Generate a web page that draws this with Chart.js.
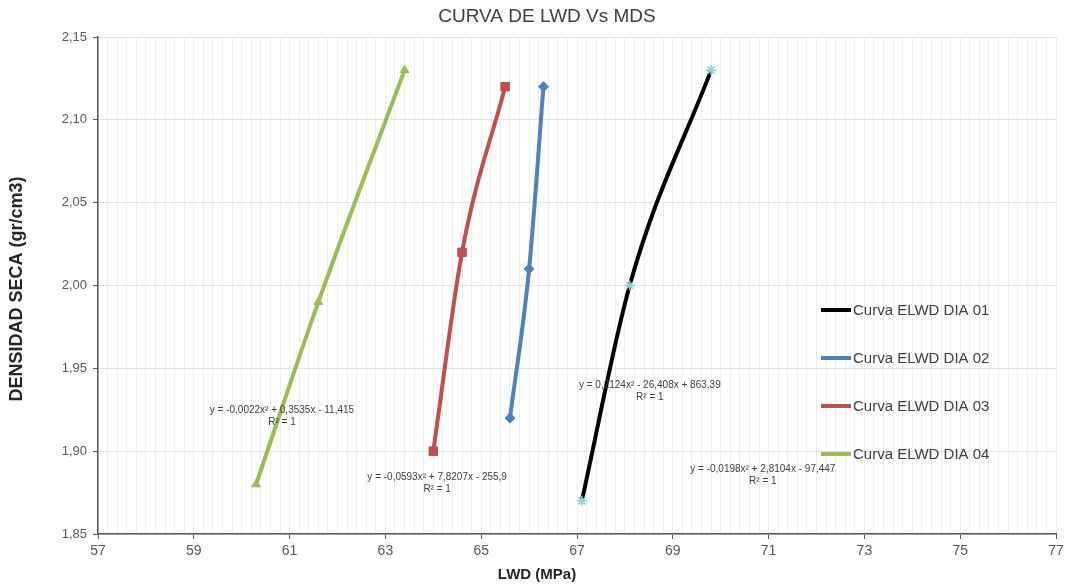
<!DOCTYPE html>
<html>
<head>
<meta charset="utf-8">
<title>Curva de LWD vs MDS</title>
<script src="https://cdn.jsdelivr.net/npm/chart.js@4.4.0/dist/chart.umd.min.js"></script>
<style>
  html, body { margin: 0; padding: 0; background: #fff; }
  #wrap { width: 1069px; height: 586px; }
</style>
</head>
<body>
<div id="wrap"><canvas id="lwdChart" width="1069" height="586"></canvas></div>
<script>
// LWD (MPa) vs dry density (gr/cm3), one curve per test day
const seriesNames = ["Curva ELWD DIA 01", "Curva ELWD DIA 02", "Curva ELWD DIA 03", "Curva ELWD DIA 04"];
const lwdDia01 = [67.1, 68.1, 69.8];
const densDia01 = [1.87, 2.00, 2.13];
const lwdDia02 = [65.6, 66.0, 66.3];
const densDia02 = [1.92, 2.01, 2.12];
const lwdDia03 = [64.0, 64.6, 65.5];
const densDia03 = [1.90, 2.02, 2.12];
const lwdDia04 = [60.3, 61.6, 63.4];
const densDia04 = [1.88, 1.99, 2.13];

// trendline equations shown on the plot
const trendEquations = [
  "y = 0,2124x² - 26,408x + 863,39",
  "y = -0,0198x² + 2,8104x - 97,447",
  "y = -0,0593x² + 7,8207x - 255,9",
  "y = -0,0022x² + 0,3535x - 11,415"
];
const trendR2 = ["R² = 1", "R² = 1", "R² = 1", "R² = 1"];
// where each equation sits, in axis units
const eqAnchors = [
  { x: 68.52, y: 1.940 },
  { x: 70.88, y: 1.889 },
  { x: 64.08, y: 1.884 },
  { x: 60.84, y: 1.925 }
];

const colors = ["#000000", "#4f81bd", "#c0504d", "#9bbb59"];
const pointStyles = ["star", "rectRot", "rect", "triangle"];

const toPoints = (xs, ys) => xs.map((x, i) => ({ x: x, y: ys[i] }));
const allSeries = [
  toPoints(lwdDia01, densDia01),
  toPoints(lwdDia02, densDia02),
  toPoints(lwdDia03, densDia03),
  toPoints(lwdDia04, densDia04)
];

const datasets = allSeries.map((pts, i) => ({
  label: seriesNames[i],
  data: pts,
  showLine: true,
  cubicInterpolationMode: "monotone",
  borderColor: colors[i],
  borderWidth: 4,
  pointStyle: pointStyles[i],
  pointRadius: i === 2 ? 6 : 5,
  pointBackgroundColor: i === 0 ? "#8fd3d3" : colors[i],
  pointBorderColor: i === 0 ? "#8fd3d3" : colors[i],
  pointBorderWidth: i === 0 ? 1.5 : 1
}));

const axisGrey = "#595959";
const textGrey = "#404040";

// title, axis titles, legend and equations
const decorPlugin = {
  id: "decor",
  afterDraw(chart) {
    const c = chart.ctx;
    const xs = chart.scales.x;
    const ys = chart.scales.y;
    c.save();

    c.fillStyle = textGrey;
    c.textAlign = "center";
    c.textBaseline = "middle";
    c.font = "19px 'Liberation Sans', sans-serif";
    c.fillText("CURVA DE LWD Vs MDS", 547, 17);

    c.fillStyle = "#262626";
    c.font = "bold 15px 'Liberation Sans', sans-serif";
    c.fillText("LWD (MPa)", 537, 575);

    c.save();
    c.translate(17, 289);
    c.rotate(-Math.PI / 2);
    c.font = "bold 18px 'Liberation Sans', sans-serif";
    c.fillText("DENSIDAD SECA (gr/cm3)", 0, 0);
    c.restore();

    // legend
    c.textAlign = "left";
    c.font = "15px 'Liberation Sans', sans-serif";
    chart.data.datasets.forEach((ds, i) => {
      const y = 310 + i * 48;
      c.strokeStyle = ds.borderColor;
      c.lineWidth = 4;
      c.beginPath();
      c.moveTo(821, y);
      c.lineTo(851, y);
      c.stroke();
      c.fillStyle = textGrey;
      c.fillText(ds.label, 853, y + 1);
    });

    // equations
    c.textAlign = "center";
    c.font = "10px 'Liberation Sans', sans-serif";
    c.fillStyle = textGrey;
    trendEquations.forEach((eq, i) => {
      const px = xs.getPixelForValue(eqAnchors[i].x);
      const py = ys.getPixelForValue(eqAnchors[i].y);
      c.fillText(eq, px, py);
      c.fillText(trendR2[i], px, py + 12);
    });

    c.restore();
  }
};

const isMajor = (v) => {
  const r = Math.round(v);
  return Math.abs(v - r) < 1e-6 && Math.abs(r % 2) === 1;
};

new Chart(document.getElementById("lwdChart"), {
  type: "scatter",
  data: { datasets: datasets },
  options: {
    responsive: false,
    animation: false,
    devicePixelRatio: 1,
    layout: { padding: { top: 37, right: 13, left: 0, bottom: 0 } },
    plugins: {
      legend: { display: false },
      title: { display: false },
      tooltip: { enabled: false }
    },
    scales: {
      x: {
        type: "linear",
        min: 57,
        max: 77,
        afterFit: (scale) => { scale.height = 52; },
        ticks: {
          stepSize: 0.2,
          autoSkip: false,
          maxRotation: 0,
          padding: 4,
          color: axisGrey,
          font: { family: "'Liberation Sans', sans-serif", size: 14 },
          callback: (v) => isMajor(v) ? String(Math.round(v)) : ""
        },
        grid: {
          color: "#eeeeee",
          lineWidth: 1,
          tickLength: 5,
          tickColor: (ctx) => (ctx.tick && isMajor(ctx.tick.value)) ? axisGrey : "rgba(0,0,0,0)"
        },
        border: { color: axisGrey, width: 1.5 }
      },
      y: {
        min: 1.85,
        max: 2.15,
        afterFit: (scale) => { scale.width = 98; },
        ticks: {
          stepSize: 0.05,
          padding: 6,
          color: axisGrey,
          font: { family: "'Liberation Sans', sans-serif", size: 13 },
          callback: (v) => v.toFixed(2).replace(".", ",")
        },
        grid: {
          color: "#e4e4e4",
          tickLength: 5,
          tickColor: axisGrey
        },
        border: { color: axisGrey, width: 1.5 }
      }
    }
  },
  plugins: [decorPlugin]
});
</script>
</body>
</html>
